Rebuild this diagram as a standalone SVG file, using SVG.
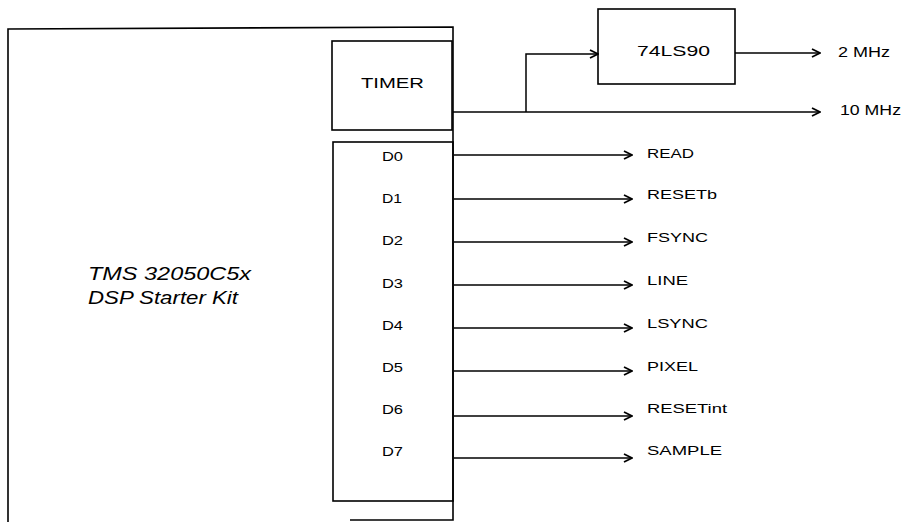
<svg xmlns="http://www.w3.org/2000/svg" width="921" height="523" viewBox="0 0 921 523">
<defs>
<marker id="arr" viewBox="0 0 10 10" refX="9" refY="5" markerWidth="10" markerHeight="10" markerUnits="userSpaceOnUse" orient="auto">
<path d="M1,1 L9,5 L1,9" fill="none" stroke="#000" stroke-width="1.8"/>
</marker>
<style>
.box{fill:none;stroke:#000;stroke-width:1.6}
.wire{fill:none;stroke:#000;stroke-width:1.5;marker-end:url(#arr)}
.t{font-family:"Liberation Sans",Arial,sans-serif;font-size:13px;fill:#000}
.b{font-size:14px}
.it{font-family:"Liberation Sans",Arial,sans-serif;font-size:19px;font-style:italic;fill:#000}
</style>
</defs>
<rect width="921" height="523" fill="#fff"/>
<g id="dsk">
<path class="box" d="M8,522 V29 L453,27 V520 H350"/>
<text class="it" x="88" y="280" textLength="163" lengthAdjust="spacingAndGlyphs">TMS 32050C5x</text>
<text class="it" x="88" y="304" textLength="150" lengthAdjust="spacingAndGlyphs">DSP Starter Kit</text>
</g>
<g id="timer">
<rect class="box" x="332" y="41" width="120" height="89"/>
<text class="t b" x="361" y="88" textLength="63" lengthAdjust="spacingAndGlyphs">TIMER</text>
</g>
<g id="port">
<rect class="box" x="333" y="142" width="120" height="359"/>
<text class="t" x="382" y="161" textLength="21" lengthAdjust="spacingAndGlyphs">D0</text>
<text class="t" x="382" y="203" textLength="20" lengthAdjust="spacingAndGlyphs">D1</text>
<text class="t" x="382" y="245" textLength="21" lengthAdjust="spacingAndGlyphs">D2</text>
<text class="t" x="382" y="288" textLength="21" lengthAdjust="spacingAndGlyphs">D3</text>
<text class="t" x="382" y="330" textLength="21" lengthAdjust="spacingAndGlyphs">D4</text>
<text class="t" x="382" y="372" textLength="21" lengthAdjust="spacingAndGlyphs">D5</text>
<text class="t" x="382" y="414" textLength="21" lengthAdjust="spacingAndGlyphs">D6</text>
<text class="t" x="382" y="456" textLength="21" lengthAdjust="spacingAndGlyphs">D7</text>
</g>
<g id="counter">
<rect class="box" x="598" y="9" width="137" height="75"/>
<text class="t b" x="637" y="56" textLength="73" lengthAdjust="spacingAndGlyphs">74LS90</text>
</g>
<g id="connectors">
<path class="wire" d="M453,112 H820"/>
<path class="wire" d="M526,112 V54 H598"/>
<path class="wire" d="M735,53 H820"/>
<path class="wire" d="M454,155 H632"/>
<path class="wire" d="M454,199 H632"/>
<path class="wire" d="M454,242 H632"/>
<path class="wire" d="M454,285 H632"/>
<path class="wire" d="M454,328 H632"/>
<path class="wire" d="M454,371 H632"/>
<path class="wire" d="M454,416 H632"/>
<path class="wire" d="M454,458 H632"/>
</g>
<g id="labels">
<text class="t b" x="838" y="57" textLength="52" lengthAdjust="spacingAndGlyphs">2 MHz</text>
<text class="t b" x="840" y="115" textLength="61" lengthAdjust="spacingAndGlyphs">10 MHz</text>
<text class="t" x="647" y="158" textLength="47" lengthAdjust="spacingAndGlyphs">READ</text>
<text class="t" x="647" y="199" textLength="70" lengthAdjust="spacingAndGlyphs">RESETb</text>
<text class="t" x="647" y="242" textLength="61" lengthAdjust="spacingAndGlyphs">FSYNC</text>
<text class="t" x="647" y="285" textLength="41" lengthAdjust="spacingAndGlyphs">LINE</text>
<text class="t" x="647" y="328" textLength="61" lengthAdjust="spacingAndGlyphs">LSYNC</text>
<text class="t" x="647" y="371" textLength="51" lengthAdjust="spacingAndGlyphs">PIXEL</text>
<text class="t" x="647" y="413" textLength="80" lengthAdjust="spacingAndGlyphs">RESETint</text>
<text class="t" x="647" y="455" textLength="75" lengthAdjust="spacingAndGlyphs">SAMPLE</text>
</g>
</svg>
